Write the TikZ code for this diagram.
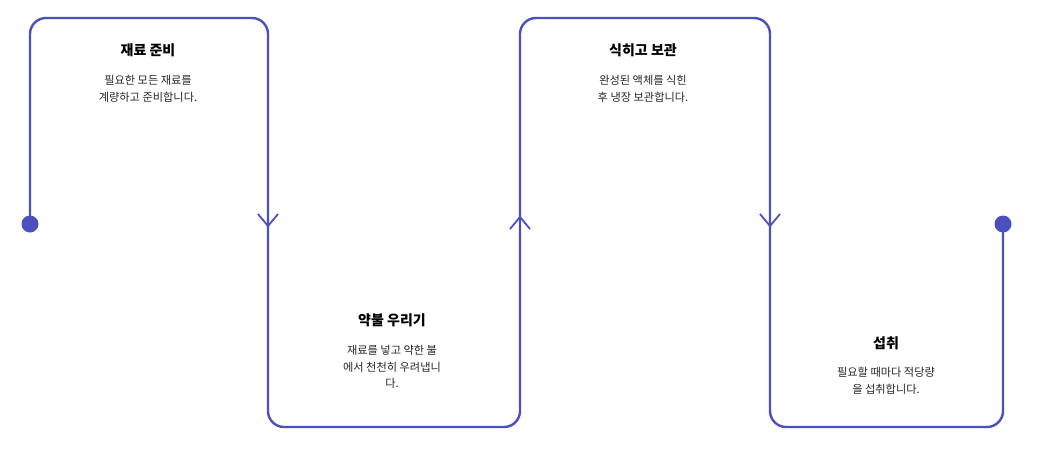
\documentclass[tikz,border=0pt]{standalone}
\usepackage{fontspec}
\newfontfamily\kr{Noto Sans CJK KR}
\definecolor{flow}{HTML}{4A50BD}
\begin{document}
\begin{tikzpicture}[x=1pt,y=-1pt,
  title/.style={font=\kr\bfseries\fontsize{14}{16}\selectfont,anchor=center,text=black},
  body/.style={font=\kr\fontsize{11.2}{16.5}\selectfont,align=center,anchor=north,text=black!85},
  flowline/.style={draw=flow,line width=2.4pt,rounded corners=16pt},
  chev/.style={draw=flow,line width=1.8pt}]
\useasboundingbox (0,0) rectangle (1046,453);
\coordinate (s) at (30,224);
\coordinate (e) at (1003,224);
\fill[flow] (s) circle (8.5);
\fill[flow] (e) circle (8.5);
\draw[flowline] (s) -- (30,18) -- (268,18) -- (268,427) -- (520,427) -- (520,18) -- (770,18) -- (770,427) -- (1003,427) -- (e);
\draw[chev] (258,214) -- (268,226) -- (278,214);
\draw[chev] (510,229) -- (520,217) -- (530,229);
\draw[chev] (760,214) -- (770,226) -- (780,214);
\node[title] (t1) at (148,50) {재료 준비};
\node[body] (b1) at (148,72) {필요한 모든 재료를\\계량하고 준비합니다.};
\node[title] (t2) at (392,320) {약불 우리기};
\node[body] (b2) at (392,342) {재료를 넣고 약한 불\\에서 천천히 우려냅니\\다.};
\node[title] (t3) at (643,50) {식히고 보관};
\node[body] (b3) at (643,72) {완성된 액체를 식힌\\후 냉장 보관합니다.};
\node[title] (t4) at (886,343) {섭취};
\node[body] (b4) at (886,364) {필요할 때마다 적당량\\을 섭취합니다.};
\end{tikzpicture}
\end{document}
